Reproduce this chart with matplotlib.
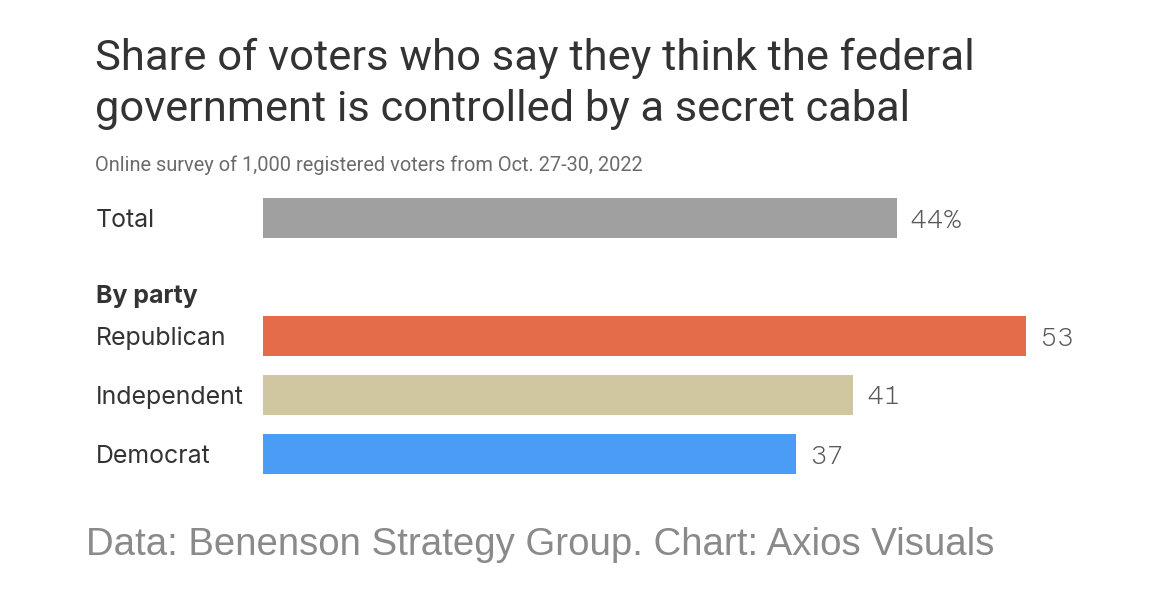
import matplotlib
matplotlib.use("Agg")
import matplotlib.pyplot as plt

# ---- data ----
categories = ["Total", "Republican", "Independent", "Democrat"]
values = [44, 53, 41, 37]
value_labels = ["44%", "53", "41", "37"]
positions = [0, 2, 3, 4]
colors = ["#a0a0a0", "#e46c4b", "#d0c69f", "#4a9cf5"]
group_label = "By party"
title_lines = ["Share of voters who say they think the federal",
               "government is controlled by a secret cabal"]
subtitle = "Online survey of 1,000 registered voters from Oct. 27-30, 2022"
footer = "Data: Benenson Strategy Group. Chart: Axios Visuals"

W, H = 1170, 590
fig = plt.figure(figsize=(W / 100, H / 100), dpi=100)
fig.patch.set_facecolor("white")
renderer = fig.canvas.get_renderer()

def px(x, y):
    return x / W, 1 - y / H

def measure(s, size, **kw):
    t = fig.text(0, 0, s, fontsize=size, **kw)
    w = t.get_window_extent(renderer).width
    t.remove()
    return w

def fit_text(x, y, s, target_w, size0, **kw):
    t = fig.text(*px(x, y), s, fontsize=size0, **kw)
    w = t.get_window_extent(renderer).width
    t.set_fontsize(size0 * target_w / w)
    return t

scale = 14.4
xmax = 60
ax_left, ax_w = 263, xmax * scale
row = 59.0
y0 = 218.0
ax_top = y0 - 0.5 * row
ax_bot = y0 + 4.5 * row
ax = fig.add_axes([ax_left / W, 1 - ax_bot / H, ax_w / W, (ax_bot - ax_top) / H])
ax.set_xlim(0, xmax)
ax.set_ylim(4.5, -0.5)
ax.axis("off")

ax.barh(positions, values, height=0.69, color=colors, left=0)

mono = ["Atkinson Hyperlegible Mono", "DejaVu Sans Mono"]
lab_size = 16 * 52 / measure("44%", 16, family=mono)
for p, v, lab in zip(positions, values, value_labels):
    ax.annotate(lab, (v, p), xytext=(13, 0), textcoords="offset pixels",
                va="center_baseline", ha="left", fontsize=lab_size, family=mono,
                color="#595959")

dark = "#333333"
cat_size = 16 * 149 / measure("Independent", 16, family="Inter")
for p, c in zip(positions, categories):
    ypx = y0 + p * row
    fig.text(*px(96, ypx), c, fontsize=cat_size, family="Inter", color=dark,
             va="center_baseline", ha="left")
fig.text(*px(96, 294), group_label, fontsize=cat_size, family="Inter",
         fontweight="bold", color=dark, va="center_baseline", ha="left")

fit_text(95, 70, title_lines[0], 877, 28, family="Roboto", color=dark, va="baseline")
fit_text(95, 121, title_lines[1], 815, 28, family="Roboto", color=dark, va="baseline")
fit_text(95, 171, subtitle, 550, 11, family="Roboto", color="#6b6b6b", va="baseline")
fit_text(86, 555, footer, 907, 26, family="Liberation Sans", color="#8a8a8a", va="baseline")

fig.savefig("out.png", dpi=100, facecolor="white")
